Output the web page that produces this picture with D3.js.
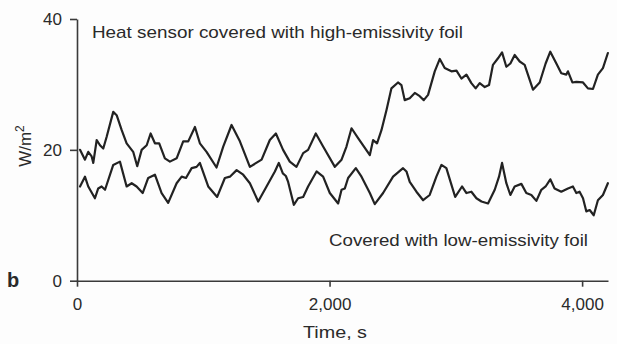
<!DOCTYPE html>
<html>
<head>
<meta charset="utf-8">
<script src="https://cdn.jsdelivr.net/npm/d3@7"></script>
<style>
  html, body { margin: 0; padding: 0; background: #fdfdfd; }
  svg { display: block; }
  text { font-family: "Liberation Sans", Arial, Helvetica, sans-serif; fill: #2a2a2a; }
</style>
</head>
<body>
<svg id="chart" width="617" height="344"></svg>
<script>
// ---- data ----
const highTime = [24,63,89,116,129,156,182,208,235,287,314,354,393,445,477,512,552,583,617,651,696,736,789,815,841,881,934,973,1026,1105,1158,1224,1290,1369,1462,1527,1575,1632,1685,1738,1791,1830,1891,1949,2042,2095,2134,2174,2226,2319,2345,2376,2411,2451,2490,2542,2569,2595,2635,2675,2714,2746,2780,2833,2873,2912,2965,3005,3044,3084,3123,3157,3189,3229,3263,3294,3334,3366,3400,3432,3466,3506,3545,3611,3664,3711,3748,3796,3835,3875,3888,3923,3954,4007,4046,4086,4125,4165,4204];
const highValue = [20.0,18.5,19.7,19.0,18.0,21.5,20.7,20.2,22.0,25.8,25.3,23.0,21.0,19.7,17.5,20.0,20.7,22.5,21.0,21.0,18.7,18.2,18.7,20.0,21.3,21.3,23.5,21.0,19.7,17.3,20.5,23.8,21.3,17.4,18.5,21.5,22.5,20.0,18.2,17.4,19.5,20.0,22.5,20.5,17.4,18.5,20.5,23.3,21.8,19.2,21.5,21.0,23.0,26.1,29.4,30.3,29.9,27.6,27.9,28.7,28.2,27.6,28.4,32.0,33.9,32.5,32.0,32.1,30.9,31.5,30.2,29.4,30.2,29.6,29.9,33.0,34.0,34.9,32.7,33.2,34.5,33.5,33.0,29.2,30.3,33.2,35.0,33.2,31.7,31.5,32.0,30.3,30.4,30.3,29.4,29.3,31.5,32.5,34.8];

const lowTime = [24,63,89,142,168,195,222,287,340,393,433,472,520,564,617,670,722,789,829,863,908,947,973,1039,1110,1171,1211,1264,1316,1369,1435,1501,1567,1598,1630,1654,1672,1717,1751,1791,1830,1897,1949,2002,2068,2095,2121,2147,2208,2253,2319,2358,2424,2503,2582,2609,2635,2688,2741,2793,2846,2886,2925,2960,2995,3049,3084,3123,3163,3203,3255,3308,3342,3366,3400,3432,3466,3519,3558,3598,3638,3677,3711,3748,3782,3835,3888,3927,3954,3980,4007,4033,4060,4092,4125,4165,4204];
const lowValue = [14.4,15.9,14.4,12.6,14.1,14.4,13.9,17.7,18.2,14.4,14.9,14.4,13.4,15.7,16.2,13.4,11.9,14.9,15.9,15.7,17.2,17.4,18.0,14.4,12.8,15.7,15.9,16.9,16.2,14.9,12.1,14.4,16.7,18.0,16.4,16.0,15.1,11.6,12.6,12.8,14.4,16.7,15.9,13.4,11.8,13.9,14.1,15.7,17.2,15.9,13.4,11.7,13.4,15.9,17.2,16.7,15.1,13.6,12.3,13.1,15.9,17.7,17.2,15.0,12.8,14.4,13.4,13.6,12.6,12.1,11.8,13.9,15.9,18.0,14.9,13.1,14.4,14.8,13.4,13.1,12.2,13.9,14.4,15.5,14.1,13.6,14.1,14.4,13.4,13.6,12.6,10.6,10.8,10.0,12.3,13.1,14.9];

const xTicks = [0, 2000, 4000];
const yTicks = [0, 20, 40];
const xDomain = [0, 4205];
const yDomain = [0, 40];
const highLabel = "Heat sensor covered with high-emissivity foil";
const lowLabel = "Covered with low-emissivity foil";
const xTitle = "Time, s";
const panelLetter = "b";

// ---- drawing ----
const svg = d3.select("#chart");
const x = d3.scaleLinear().domain(xDomain).range([77, 608]);
const y = d3.scaleLinear().domain(yDomain).range([280.7, 19]);

const axisColor = "#3a3a3a";

// x axis
const gx = svg.append("g").attr("transform", `translate(0,${y(0)})`)
  .call(d3.axisBottom(x).tickValues(xTicks).tickFormat(d3.format(",")).tickSize(6).tickSizeOuter(0).tickPadding(11));
// y axis
const gy = svg.append("g").attr("transform", `translate(${x(0)},0)`)
  .call(d3.axisLeft(y).tickValues(yTicks).tickSize(7).tickSizeOuter(0).tickPadding(8));

[gx, gy].forEach(g => {
  g.selectAll("path.domain").attr("stroke", axisColor).attr("stroke-width", 1.6);
  g.selectAll(".tick line").attr("stroke", axisColor).attr("stroke-width", 1.6);
  g.selectAll(".tick text").attr("font-size", 17).attr("fill", "#2e2e2e")
    .attr("font-family", '"Liberation Sans", Arial, sans-serif');
});

// line series
const line = d3.line().x(d => x(d[0])).y(d => y(d[1]));
const series = [
  d3.zip(highTime, highValue),
  d3.zip(lowTime, lowValue)
];
svg.selectAll("path.series").data(series).join("path")
  .attr("class", "series")
  .attr("d", line)
  .attr("fill", "none")
  .attr("stroke", "#222")
  .attr("stroke-width", 2.2)
  .attr("stroke-linejoin", "round")
  .attr("stroke-linecap", "round");

// annotations
svg.append("text").attr("x", 92).attr("y", 38)
  .attr("font-size", 17).attr("textLength", 371).attr("lengthAdjust", "spacingAndGlyphs")
  .text(highLabel);
svg.append("text").attr("x", 329).attr("y", 245.5)
  .attr("font-size", 17).attr("textLength", 259).attr("lengthAdjust", "spacingAndGlyphs")
  .text(lowLabel);

// x title
svg.append("text").attr("x", 303).attr("y", 338)
  .attr("font-size", 17).attr("textLength", 64).attr("lengthAdjust", "spacingAndGlyphs")
  .text(xTitle);

// y title W/m²
const yt = svg.append("text")
  .attr("transform", "translate(31,146) rotate(-90)")
  .attr("text-anchor", "middle")
  .attr("font-size", 17);
yt.append("tspan").text("W/m");
yt.append("tspan").attr("dy", -7).attr("font-size", 12).text("2");

// panel letter
svg.append("text").attr("x", 7).attr("y", 287)
  .attr("font-size", 20).attr("font-weight", "bold").attr("fill", "#1a1a1a")
  .text(panelLetter);
</script>
</body>
</html>
